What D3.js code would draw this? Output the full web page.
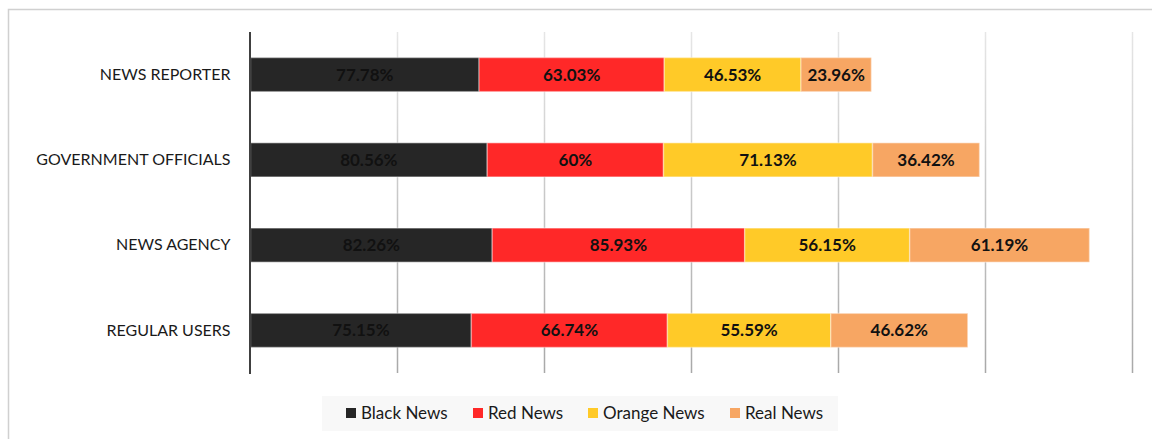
<!DOCTYPE html>
<html><head><meta charset="utf-8">
<script src="https://cdn.jsdelivr.net/npm/d3@7"></script>
<style>html,body{margin:0;padding:0;background:#fff;}svg{display:block;font-family:Lato,"Open Sans",sans-serif;}</style>
</head><body>
<svg id="chart" width="1152" height="439"></svg>
<script>
const categories = ["NEWS REPORTER", "GOVERNMENT OFFICIALS", "NEWS AGENCY", "REGULAR USERS"];
const seriesNames = ["Black News", "Red News", "Orange News", "Real News"];
const blackNews = [77.78, 80.56, 82.26, 75.15];
const redNews = [63.03, 60, 85.93, 66.74];
const orangeNews = [46.53, 71.13, 56.15, 55.59];
const realNews = [23.96, 36.42, 61.19, 46.62];
const labelText = [
  ["77.78%", "80.56%", "82.26%", "75.15%"],
  ["63.03%", "60%", "85.93%", "66.74%"],
  ["46.53%", "71.13%", "56.15%", "55.59%"],
  ["23.96%", "36.42%", "61.19%", "46.62%"]
];
const tickValues = [0, 50, 100, 150, 200, 250, 300];
const colors = ["#262626", "#ff2828", "#ffca28", "#f7a663"];

const svg = d3.select("#chart");
// outer border
svg.append("rect").attr("x", 8.5).attr("y", 9.5).attr("width", 1200).attr("height", 500)
  .attr("fill", "none").attr("stroke", "#d0d0d0").attr("stroke-width", 1.5);

const x = d3.scaleLinear().domain([0, 300]).range([250.5, 1132]);
const y = d3.scaleBand().domain(categories).range([32, 373]).paddingInner(0.6).paddingOuter(0.3);

// gridlines gradient
const defs = svg.append("defs");
const grad = defs.append("linearGradient").attr("id", "gg").attr("gradientUnits", "userSpaceOnUse")
  .attr("x1", 0).attr("y1", 32).attr("x2", 0).attr("y2", 373);
grad.append("stop").attr("offset", "0%").attr("stop-color", "#e6e6e6");
grad.append("stop").attr("offset", "100%").attr("stop-color", "#a8a8a8");

svg.append("g").selectAll("line").data(tickValues.slice(1)).join("line")
  .attr("x1", d => Math.round(x(d)) + 0.5).attr("x2", d => Math.round(x(d)) + 0.5)
  .attr("y1", 32).attr("y2", 373).attr("stroke", "url(#gg)").attr("stroke-width", 1.5);

const data = categories.map((c, i) => ({
  cat: c, "Black News": blackNews[i], "Red News": redNews[i], "Orange News": orangeNews[i], "Real News": realNews[i], idx: i
}));
const stack = d3.stack().keys(seriesNames)(data);

const gs = svg.append("g").selectAll("g").data(stack).join("g").attr("fill", (d, i) => colors[i]);
gs.selectAll("rect").data(d => d).join("rect")
  .attr("x", d => x(d[0])).attr("width", d => x(d[1]) - x(d[0]))
  .attr("y", d => y(d.data.cat)).attr("height", y.bandwidth())
  .attr("stroke", "rgba(255,255,255,0.35)").attr("stroke-width", 1.5);

gs.each(function(s, si) {
  d3.select(this).selectAll("text").data(s).join("text")
    .attr("x", d => (x(d[0]) + x(d[1])) / 2)
    .attr("y", d => y(d.data.cat) + y.bandwidth() / 2)
    .attr("dy", "0.36em").attr("text-anchor", "middle")
    .attr("fill", "#111").attr("font-weight", "bold").attr("font-size", 17)
    .text(d => labelText[si][d.data.idx]);
});

// y axis
const yAxis = d3.axisLeft(y).tickSize(0).tickPadding(20);
const ya = svg.append("g").attr("transform", "translate(250.5,0)").call(yAxis);
ya.select(".domain").remove();
ya.selectAll("text").attr("font-size", 16).attr("fill", "#1a1a1a").attr("font-family", "Lato,sans-serif");
svg.append("line").attr("x1", 250).attr("x2", 250).attr("y1", 32).attr("y2", 374)
  .attr("stroke", "#404040").attr("stroke-width", 2);

// legend
const lg = svg.append("g");
lg.append("rect").attr("x", 322).attr("y", 396).attr("width", 516).attr("height", 35).attr("fill", "#f8f8f8");
const legX = [346, 473, 588, 730];
const li = lg.selectAll("g.li").data(seriesNames).join("g").attr("class", "li")
  .attr("transform", (d, i) => `translate(${legX[i]},413)`);
li.append("rect").attr("x", 0).attr("y", -5).attr("width", 10).attr("height", 10)
  .attr("fill", (d, i) => colors[i]);
li.append("text").attr("x", 15).attr("dy", "0.36em").attr("font-size", 17).attr("fill", "#1a1a1a").text(d => d);
</script>
</body></html>
